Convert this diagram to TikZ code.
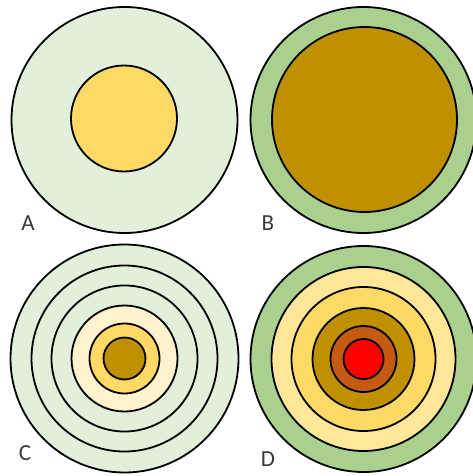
\documentclass[tikz,border=0pt]{standalone}
\usepackage{fontspec}
\setsansfont{Carlito}
\usepackage{tikz}
\definecolor{PaleGreen}{HTML}{E2EFDA}
\definecolor{LeafGreen}{HTML}{A9D08E}
\definecolor{Cream}{HTML}{FFF2CC}
\definecolor{LightButter}{HTML}{FFE699}
\definecolor{Butter}{HTML}{FFD966}
\definecolor{Ochre}{HTML}{BF9000}
\definecolor{Rust}{HTML}{C55A11}
\definecolor{Scarlet}{HTML}{FF0000}
\definecolor{LabelGrey}{HTML}{3A3A3A}

\begin{document}
\begin{tikzpicture}[
  x=1pt,y=-1pt,
  ring/.style={draw=black,line width=1.8pt},
  tag/.style={font=\sffamily\fontsize{23}{23}\selectfont,text=LabelGrey,inner sep=0pt}
]
\fill[white] (0,0) rectangle (473,476);
\useasboundingbox (0,0) rectangle (473,476);
% A
\draw[ring,fill=PaleGreen] (124.5,120) circle[radius=113pt];
\draw[ring,fill=Butter] (124,118.5) circle[radius=53pt];
\node[tag] (labA) at (28,223) {A};
% B
\draw[ring,fill=LeafGreen] (363.5,120) circle[radius=113pt];
\draw[ring,fill=Ochre] (364.5,119.5) circle[radius=92.5pt];
\node[tag] (labB) at (268,223) {B};
% C
\foreach \r/\c in {114/PaleGreen,93/PaleGreen,73/PaleGreen,53/Cream,35/Butter,21/Ochre}
  \draw[ring,fill=\c] (124.5,358.5) circle[radius=\r pt];
\node[tag] (labC) at (25,453) {C};
% D
\foreach \r/\c in {113/LeafGreen,92/LightButter,72/Butter,51/Ochre,33/Rust,20/Scarlet}
  \draw[ring,fill=\c] (363.5,359) circle[radius=\r pt];
\node[tag] (labD) at (268,459) {D};
\end{tikzpicture}
\end{document}
